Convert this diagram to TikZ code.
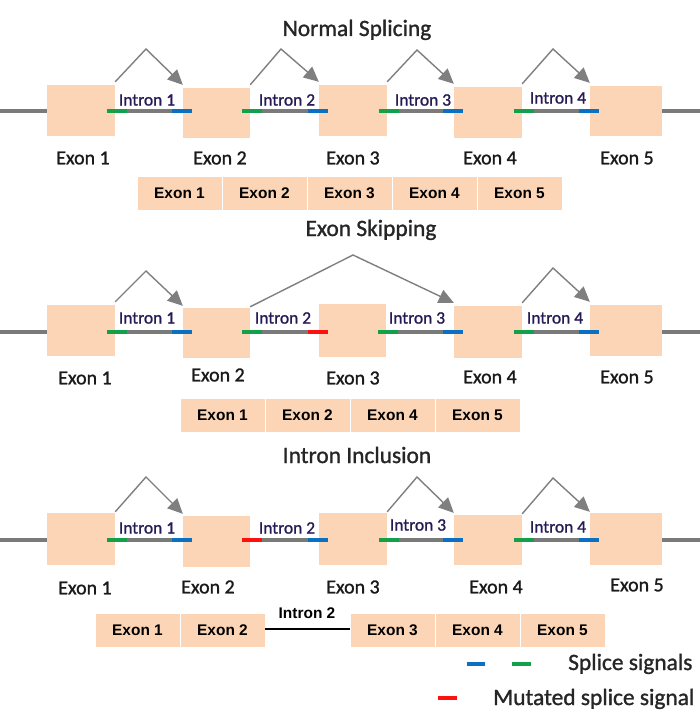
\documentclass[tikz,border=0pt]{standalone}
\usepackage{fontspec}
\setmainfont{Carlito}[FakeBold=1.2]
\newfontfamily\plainfont{Carlito}[FakeBold=1.2]
\newfontfamily\barfont{Liberation Sans}
\usetikzlibrary{arrows.meta}
\definecolor{exonfill}{HTML}{FBD5B5}
\definecolor{genegray}{HTML}{7A7A7A}
\definecolor{arrgray}{HTML}{7F7F7F}
\definecolor{sgreen}{HTML}{12A04A}
\definecolor{sblue}{HTML}{0A70C4}
\definecolor{sred}{HTML}{FF1010}
\definecolor{intcol}{HTML}{261A55}
\definecolor{txtcol}{HTML}{1A1A1A}
\definecolor{titcol}{HTML}{262626}
% intron between two exon nodes: #1 left exon, #2 right exon, #3 line y, #4 left signal colour, #5 right signal colour
\newcommand\intr[5]{%
  \path (#1.east |- 0,#3) ++(-8,0) coordinate (gA) ++(20,0) coordinate (gB);
  \path (#2.west |- 0,#3) ++(9,0) coordinate (bB) ++(-20,0) coordinate (bA);
  \draw[geneline] (gB) -- (bA);
  \draw[sigline,draw=#4] (gA) -- (gB);
  \draw[sigline,draw=#5] (bA) -- (bB);
}
\begin{document}
\begin{tikzpicture}[x=1bp,y=-1bp,
  exon/.style={fill=exonfill, draw=none, inner sep=0pt, minimum width=68bp, minimum height=51bp},
  geneline/.style={draw=genegray, line width=3.5bp},
  sigline/.style={line width=4.5bp},
  splarrow/.style={draw=arrgray, line width=1.4bp, line join=miter, -{Triangle[length=15bp,width=14bp]}},
  exlabel/.style={font=\plainfont\fontsize{20}{24}\selectfont, text=txtcol, inner sep=0pt},
  inlabel/.style={font=\plainfont\fontsize{17.5}{20}\selectfont, text=intcol, inner sep=0pt},
  sectitle/.style={font=\plainfont\fontsize{23.5}{28}\selectfont, text=titcol, inner sep=0pt, anchor=base},
  mseg/.style={fill=exonfill, draw=white, line width=0.8bp, minimum width=85bp, minimum height=34bp, inner sep=0pt, font=\barfont\bfseries\fontsize{15.5}{18}\selectfont},
  legtext/.style={font=\plainfont\fontsize{23.5}{28}\selectfont, text=titcol, inner sep=0pt, anchor=base west},
]
\useasboundingbox (0,0) rectangle (700,719);

% ---------------- Normal Splicing ----------------
\node[sectitle] (t1) at (357,36) {Normal Splicing};
\node[exon] (e11) at (81,110.5) {};
\node[exon, minimum width=67bp, minimum height=50bp] (e12) at (216.5,113) {};
\node[exon] (e13) at (353,110.5) {};
\node[exon] (e14) at (488,112.5) {};
\node[exon, minimum width=72bp, minimum height=50bp] (e15) at (626,111) {};
\coordinate (l1) at (0,111); \coordinate (r1) at (700,111);
\draw[geneline] (l1) -- (e11.west |- l1);
\draw[geneline] (e15.east |- r1) -- (r1);
\intr{e11}{e12}{111}{sgreen}{sblue}
\intr{e12}{e13}{111}{sgreen}{sblue}
\intr{e13}{e14}{111}{sgreen}{sblue}
\intr{e14}{e15}{111}{sgreen}{sblue}
\coordinate (a11) at (146,49);
\coordinate (a12) at (281,49);
\coordinate (a13) at (417,50);
\coordinate (a14) at (553,49);
\draw[splarrow] ([yshift=3bp]e11.north east) -- (a11) -- ([yshift=3bp]e12.north west);
\draw[splarrow] ([yshift=3bp]e12.north east) -- (a12) -- ([yshift=3bp]e13.north west);
\draw[splarrow] ([yshift=3bp]e13.north east) -- (a13) -- ([yshift=3bp]e14.north west);
\draw[splarrow] ([yshift=3bp]e14.north east) -- (a14) -- ([yshift=3bp]e15.north west);
\node[inlabel] (i11) at (147,100) {Intron 1};
\node[inlabel] (i12) at (287,100) {Intron 2};
\node[inlabel] (i13) at (423,100) {Intron 3};
\node[inlabel] (i14) at (558,98) {Intron 4};
\node[exlabel] (x11) at (83,158) {Exon 1};
\node[exlabel] (x12) at (220,158) {Exon 2};
\node[exlabel] (x13) at (353,158) {Exon 3};
\node[exlabel] (x14) at (490,158) {Exon 4};
\node[exlabel] (x15) at (627,158) {Exon 5};
\node[mseg] (m11) at (179.5,193) {Exon 1};
\node[mseg] (m12) at (264.5,193) {Exon 2};
\node[mseg] (m13) at (349.5,193) {Exon 3};
\node[mseg] (m14) at (434.5,193) {Exon 4};
\node[mseg] (m15) at (519.5,193) {Exon 5};

% ---------------- Exon Skipping ----------------
\node[sectitle] (t2) at (371,236) {Exon Skipping};
\node[exon] (e21) at (81,330.5) {};
\node[exon, minimum width=67bp, minimum height=50bp] (e22) at (216.5,333) {};
\node[exon, minimum width=67bp, minimum height=53bp] (e23) at (352.5,330.5) {};
\node[exon, minimum height=52bp] (e24) at (488,332) {};
\node[exon, minimum width=72bp] (e25) at (626,330.5) {};
\coordinate (l2) at (0,332); \coordinate (r2) at (700,332);
\draw[geneline] (l2) -- (e21.west |- l2);
\draw[geneline] (e25.east |- r2) -- (r2);
\intr{e21}{e22}{332}{sgreen}{sblue}
\intr{e22}{e23}{332}{sgreen}{sred}
\intr{e23}{e24}{332}{sgreen}{sblue}
\intr{e24}{e25}{332}{sgreen}{sblue}
\coordinate (a21) at (146,271);
\coordinate (a22) at (353,255);
\coordinate (a24) at (553,268);
\draw[splarrow] ([yshift=3bp]e21.north east) -- (a21) -- ([yshift=2bp]e22.north west);
\draw[splarrow] ([yshift=1bp]e22.north east) -- (a22) -- ([yshift=3bp]e24.north west);
\draw[splarrow] ([yshift=3bp]e24.north east) -- (a24) -- ([yshift=3bp]e25.north west);
\node[inlabel] (i21) at (147,318) {Intron 1};
\node[inlabel] (i22) at (283,318) {Intron 2};
\node[inlabel] (i23) at (417,318) {Intron 3};
\node[inlabel] (i24) at (555,318) {Intron 4};
\node[exlabel] (x21) at (85,378) {Exon 1};
\node[exlabel] (x22) at (218,375) {Exon 2};
\node[exlabel] (x23) at (353,378) {Exon 3};
\node[exlabel] (x24) at (490,377) {Exon 4};
\node[exlabel] (x25) at (627,377) {Exon 5};
\node[mseg] (m21) at (222.5,415) {Exon 1};
\node[mseg] (m22) at (307.5,415) {Exon 2};
\node[mseg] (m23) at (392.5,415) {Exon 4};
\node[mseg] (m24) at (477.5,415) {Exon 5};

% ---------------- Intron Inclusion ----------------
\node[sectitle] (t3) at (357,463) {Intron Inclusion};
\node[exon, minimum height=52bp] (e31) at (81,539) {};
\node[exon, minimum width=67bp] (e32) at (216.5,541.5) {};
\node[exon, minimum height=52bp] (e33) at (353,539) {};
\node[exon, minimum height=50bp] (e34) at (488,540) {};
\node[exon, minimum width=72bp, minimum height=52bp] (e35) at (626,539) {};
\coordinate (l3) at (0,540); \coordinate (r3) at (700,540);
\draw[geneline] (l3) -- (e31.west |- l3);
\draw[geneline] (e35.east |- r3) -- (r3);
\intr{e31}{e32}{540}{sgreen}{sblue}
\intr{e32}{e33}{540}{sred}{sblue}
\intr{e33}{e34}{540}{sgreen}{sblue}
\intr{e34}{e35}{540}{sgreen}{sblue}
\coordinate (a31) at (146,477);
\coordinate (a33) at (417,477);
\coordinate (a34) at (553,478);
\draw[splarrow] ([yshift=1bp]e31.north east) -- (a31) -- ([yshift=2bp]e32.north west);
\draw[splarrow] ([yshift=1bp]e33.north east) -- (a33) -- ([yshift=2bp]e34.north west);
\draw[splarrow] ([yshift=1bp]e34.north east) -- (a34) -- ([yshift=1bp]e35.north west);
\node[inlabel] (i31) at (147,528) {Intron 1};
\node[inlabel] (i32) at (287,528) {Intron 2};
\node[inlabel] (i33) at (418,525) {Intron 3};
\node[inlabel] (i34) at (558,527) {Intron 4};
\node[exlabel] (x31) at (85,588) {Exon 1};
\node[exlabel] (x32) at (208,587) {Exon 2};
\node[exlabel] (x33) at (353,587) {Exon 3};
\node[exlabel] (x34) at (496,587) {Exon 4};
\node[exlabel] (x35) at (637,585) {Exon 5};
\node[mseg] (m31) at (137.5,630) {Exon 1};
\node[mseg] (m32) at (222.5,630) {Exon 2};
\node[mseg] (m33) at (392.5,630) {Exon 3};
\node[mseg] (m34) at (477.5,630) {Exon 4};
\node[mseg] (m35) at (562.5,630) {Exon 5};
\draw[line width=2.7bp, black] (m32.east |- 0,629) -- (m33.west |- 0,629);
\node[font=\barfont\bfseries\fontsize{15.5}{18}\selectfont, inner sep=0pt] (ilab) at (307,613) {Intron 2};

% ---------------- Legend ----------------
\draw[sigline, draw=sblue] (467,664) -- (485,664);
\draw[sigline, draw=sgreen] (512,664) -- (531,664);
\draw[sigline, draw=sred] (438,698) -- (457,698);
\node[legtext] (lg1) at (568,670) {Splice signals};
\node[legtext] (lg2) at (493,705) {Mutated splice signal};
\end{tikzpicture}
\end{document}
